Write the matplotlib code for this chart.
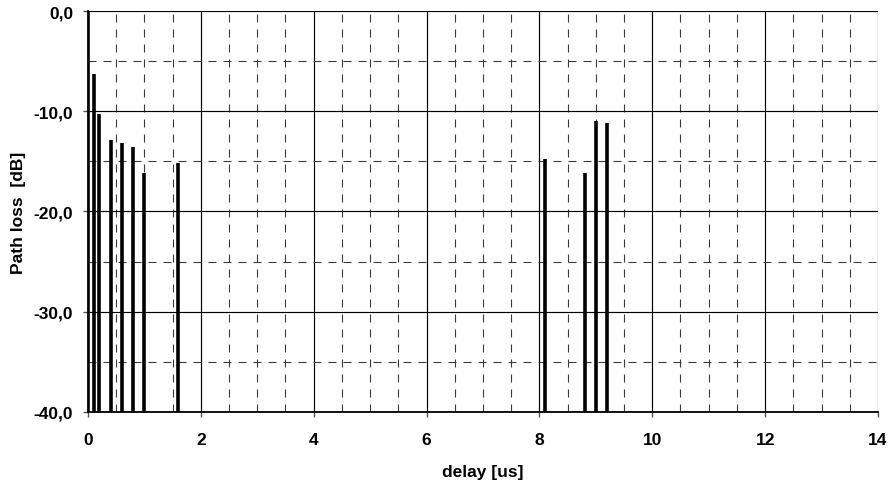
import matplotlib.pyplot as plt
from matplotlib.ticker import MultipleLocator, FuncFormatter

plt.rcParams['font.family'] = ['Liberation Sans', 'DejaVu Sans']

# delay in microseconds and path loss in dB
delay = [0.0, 0.1, 0.2, 0.4, 0.6, 0.8, 1.0, 1.6, 8.1, 8.8, 9.0, 9.2]
loss = [0.0, -6.3, -10.3, -12.9, -13.2, -13.6, -16.2, -15.2, -14.8, -16.2, -11.0, -11.2]

fig = plt.figure(figsize=(8.95, 4.85), dpi=100)
ax = fig.add_axes([0.0983, 0.149, 0.8827, 0.826])

ax.vlines(delay, -40, loss, colors='black', linewidth=2.6, zorder=3)

ax.set_xlim(0, 14)
ax.set_ylim(-40, 0)
ax.xaxis.set_major_locator(MultipleLocator(2))
ax.xaxis.set_minor_locator(MultipleLocator(0.5))
ax.yaxis.set_major_locator(MultipleLocator(10))
ax.yaxis.set_minor_locator(MultipleLocator(5))
ax.yaxis.set_major_formatter(FuncFormatter(lambda v, p: f"{v:.1f}".replace('.', ',')))

ax.grid(which='major', color='black', linewidth=0.85, linestyle='-')
ax.grid(which='minor', color='#3a3a3a', linewidth=0.8, linestyle=(0, (7.2, 6.3)))
ax.set_axisbelow(True)

for s in ['top', 'right']:
    ax.spines[s].set_visible(False)
for s in ['left', 'bottom']:
    ax.spines[s].set_color('black')
    ax.spines[s].set_linewidth(1.3)

ax.tick_params(which='major', length=3.6, width=1, color='#555555', labelsize=12.5)
ax.tick_params(axis='y', pad=7)
ax.tick_params(axis='x', pad=11)
ax.tick_params(which='minor', length=0)
for lab in ax.get_xticklabels() + ax.get_yticklabels():
    lab.set_fontweight('bold')

ax.set_xlabel('delay [us]', fontsize=12.5, fontweight='bold', labelpad=12)
ax.set_ylabel('Path loss  [dB]', fontsize=12.5, fontweight='bold', labelpad=5.5)

fig.savefig('out.png', dpi=100)
